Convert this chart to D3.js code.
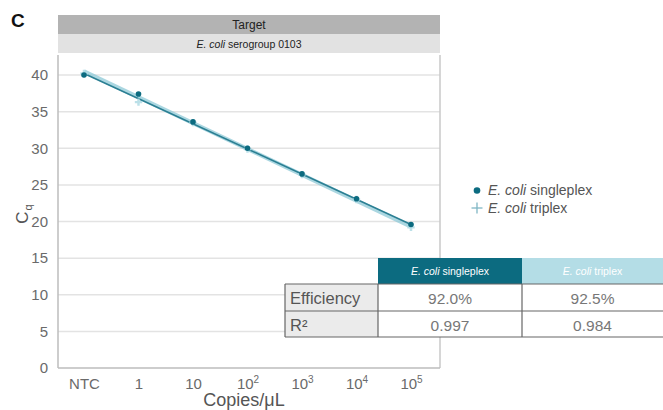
<!DOCTYPE html>
<html>
<head>
<meta charset="utf-8">
<script src="https://cdn.jsdelivr.net/npm/d3@7"></script>
<style>
  html, body { margin: 0; padding: 0; background: #fff; }
  svg { display: block; font-family: "Liberation Sans", Arial, Helvetica, sans-serif; }
</style>
</head>
<body>
<svg id="chart" width="663" height="410"></svg>
<script>
// Standard curve: Cq versus template concentration
const categories = ["NTC", "1", "10", "100", "1000", "10000", "100000"];
const tickLabels = [["NTC", null], ["1", null], ["10", null], ["10", "2"], ["10", "3"], ["10", "4"], ["10", "5"]];
const singleplex = [40.0, 37.4, 33.6, 30.0, 26.5, 23.1, 19.6];
const triplex    = [40.2, 36.3, 33.5, 29.9, 26.4, 23.0, 19.2];
// Fitted trend lines, first and last category
const singleplexFit = [40.2, 19.6];
const triplexFit    = [40.5, 19.3];
const yTicks = [0, 5, 10, 15, 20, 25, 30, 35, 40];
const tableHeaders = ["E. coli singleplex", "E. coli triplex"];
const tableRows = ["Efficiency", "R²"];
const efficiency = ["92.0%", "92.5%"];
const rSquared = ["0.997", "0.984"];

const dark = "#0c6b80", light = "#b4dde6", lineLight = "#8fcad8";
const svg = d3.select("#chart");
const plotLeft = 58, plotRight = 440, plotTop = 55, plotBottom = 368;

const x = d3.scalePoint().domain(categories).range([84, 411]);
const y = d3.scaleLinear().domain([0, 40]).range([plotBottom, 75]);

// Panel letter
svg.append("text").attr("x", 11).attr("y", 26.5).attr("font-size", 19).attr("font-weight", "bold")
  .attr("fill", "#111").text("C");

// Header bars
svg.append("rect").attr("x", plotLeft).attr("y", 15).attr("width", plotRight - plotLeft).attr("height", 19).attr("fill", "#b3b3b3");
svg.append("rect").attr("x", plotLeft).attr("y", 34).attr("width", plotRight - plotLeft).attr("height", 19).attr("fill", "#e2e2e2");
svg.append("text").attr("x", (plotLeft + plotRight) / 2).attr("y", 29).attr("text-anchor", "middle")
  .attr("font-size", 12).attr("fill", "#222").text("Target");
const sub = svg.append("text").attr("x", (plotLeft + plotRight) / 2).attr("y", 47.5).attr("text-anchor", "middle")
  .attr("font-size", 10.5).attr("fill", "#222");
sub.append("tspan").attr("font-style", "italic").text("E. coli");
sub.append("tspan").text(" serogroup 0103");

// Gridlines
svg.append("g").selectAll("line").data(yTicks.filter(d => d > 0)).join("line")
  .attr("x1", plotLeft).attr("x2", plotRight).attr("y1", d => y(d)).attr("y2", d => y(d))
  .attr("stroke", "#e3e3e3").attr("stroke-width", 1.5);

// Frame
svg.append("line").attr("x1", plotRight).attr("x2", plotRight).attr("y1", plotTop).attr("y2", plotBottom).attr("stroke", "#c8c8c8").attr("stroke-width", 1.5);
svg.append("line").attr("x1", plotLeft).attr("x2", plotRight).attr("y1", plotBottom).attr("y2", plotBottom).attr("stroke", "#bdbdbd").attr("stroke-width", 1.5);
svg.append("line").attr("x1", plotLeft).attr("x2", plotLeft).attr("y1", plotTop).attr("y2", plotBottom).attr("stroke", "#bdbdbd").attr("stroke-width", 1.5);

// Y axis
const yAxis = svg.append("g").attr("transform", `translate(${plotLeft},0)`)
  .call(d3.axisLeft(y).tickValues(yTicks).tickSize(0).tickPadding(10));
yAxis.select(".domain").remove();
yAxis.selectAll("text").attr("font-size", 15).attr("fill", "#6a6a6a").attr("font-family", "Liberation Sans, Arial, sans-serif");

// X axis with superscript exponents
const xAxis = svg.append("g").attr("transform", `translate(0,${plotBottom})`)
  .call(d3.axisBottom(x).tickSize(0).tickPadding(10).tickFormat(() => ""));
xAxis.select(".domain").remove();
xAxis.selectAll(".tick text").each(function(d, i) {
  const t = d3.select(this).attr("font-size", 15).attr("fill", "#6a6a6a").attr("font-family", "Liberation Sans, Arial, sans-serif").attr("dy", "0.71em");
  t.append("tspan").text(tickLabels[i][0]);
  if (tickLabels[i][1]) t.append("tspan").attr("font-size", 10).attr("dy", "-0.55em").text(tickLabels[i][1]);
});

// Axis titles
svg.append("text").attr("x", 244).attr("y", 406).attr("text-anchor", "middle")
  .attr("font-size", 18).attr("fill", "#555").text("Copies/μL");
const yt = svg.append("text").attr("transform", "translate(28,214) rotate(-90)").attr("text-anchor", "middle")
  .attr("font-size", 17).attr("fill", "#555");
yt.append("tspan").text("C");
yt.append("tspan").attr("font-size", 11).attr("dy", "0.35em").attr("dx", 1).text("q");

// Trend lines
const ends = [categories[0], categories[categories.length - 1]];
svg.append("line").attr("x1", x(ends[0])).attr("x2", x(ends[1]))
  .attr("y1", y(triplexFit[0])).attr("y2", y(triplexFit[1]))
  .attr("stroke", lineLight).attr("stroke-width", 4).attr("opacity", 0.75);
svg.append("line").attr("x1", x(ends[0])).attr("x2", x(ends[1]))
  .attr("y1", y(singleplexFit[0])).attr("y2", y(singleplexFit[1]))
  .attr("stroke", "#2b7f93").attr("stroke-width", 1.6);

// Triplex markers (+)
const plus = d3.symbol().type(d3.symbolCross).size(30);
svg.append("g").selectAll("path").data(triplex).join("path")
  .attr("d", plus)
  .attr("transform", (d, i) => `translate(${x(categories[i])},${y(d)})`)
  .attr("fill", light).attr("opacity", 0.9);

// Singleplex markers (dots)
svg.append("g").selectAll("circle").data(singleplex).join("circle")
  .attr("cx", (d, i) => x(categories[i])).attr("cy", d => y(d)).attr("r", 2.8)
  .attr("fill", dark);

// Legend
svg.append("circle").attr("cx", 477).attr("cy", 190.5).attr("r", 3.3).attr("fill", dark);
svg.append("line").attr("x1", 471.5).attr("x2", 482.5).attr("y1", 208).attr("y2", 208).attr("stroke", "#7fb6c4").attr("stroke-width", 1.3);
svg.append("line").attr("x1", 477).attr("x2", 477).attr("y1", 202.5).attr("y2", 213.5).attr("stroke", "#7fb6c4").attr("stroke-width", 1.3);
[["E. coli", " singleplex", 195], ["E. coli", " triplex", 213]].forEach(([a, b, yy]) => {
  const t = svg.append("text").attr("x", 488).attr("y", yy).attr("font-size", 14).attr("fill", "#555");
  t.append("tspan").attr("font-style", "italic").text(a);
  t.append("tspan").text(b);
});

// Performance table
const colX = [285, 378, 522, 663];
const rowY = [258, 284, 311, 337];
const g = svg.append("g");
tableHeaders.forEach((h, i) => {
  g.append("rect").attr("x", colX[i + 1]).attr("y", rowY[0]).attr("width", colX[i + 2] - colX[i + 1])
    .attr("height", rowY[1] - rowY[0]).attr("fill", i === 0 ? dark : light);
  const t = g.append("text").attr("x", (colX[i + 1] + colX[i + 2]) / 2).attr("y", rowY[0] + 17)
    .attr("text-anchor", "middle").attr("font-size", 10.5).attr("fill", "#fff");
  const parts = h.split(" ");
  t.append("tspan").attr("font-style", "italic").text(parts[0] + " " + parts[1]);
  t.append("tspan").text(" " + parts[2]);
});
const values = [efficiency, rSquared];
tableRows.forEach((r, ri) => {
  g.append("rect").attr("x", colX[0]).attr("y", rowY[ri + 1]).attr("width", colX[1] - colX[0])
    .attr("height", rowY[ri + 2] - rowY[ri + 1]).attr("fill", "#ebebeb");
  g.append("rect").attr("x", colX[1]).attr("y", rowY[ri + 1]).attr("width", colX[3] - colX[1])
    .attr("height", rowY[ri + 2] - rowY[ri + 1]).attr("fill", "#fff");
  g.append("text").attr("x", colX[0] + 5).attr("y", rowY[ri + 1] + 20).attr("font-size", 16.5)
    .attr("fill", "#555").text(r);
  values[ri].forEach((v, ci) => {
    g.append("text").attr("x", (colX[ci + 1] + colX[ci + 2]) / 2).attr("y", rowY[ri + 1] + 19.5)
      .attr("text-anchor", "middle").attr("font-size", 15.5).attr("fill", "#777").text(v);
  });
});
const stroke = "#666";
[rowY[1], rowY[2], rowY[3]].forEach(yy => g.append("line").attr("x1", colX[0]).attr("x2", colX[3])
  .attr("y1", yy).attr("y2", yy).attr("stroke", stroke).attr("stroke-width", 1.2));
g.append("line").attr("x1", colX[0]).attr("x2", colX[0]).attr("y1", rowY[1]).attr("y2", rowY[3]).attr("stroke", stroke).attr("stroke-width", 1.2);
[colX[1], colX[2]].forEach(xx => g.append("line").attr("x1", xx).attr("x2", xx)
  .attr("y1", rowY[1]).attr("y2", rowY[3]).attr("stroke", stroke).attr("stroke-width", 1.2));
</script>
</body>
</html>
